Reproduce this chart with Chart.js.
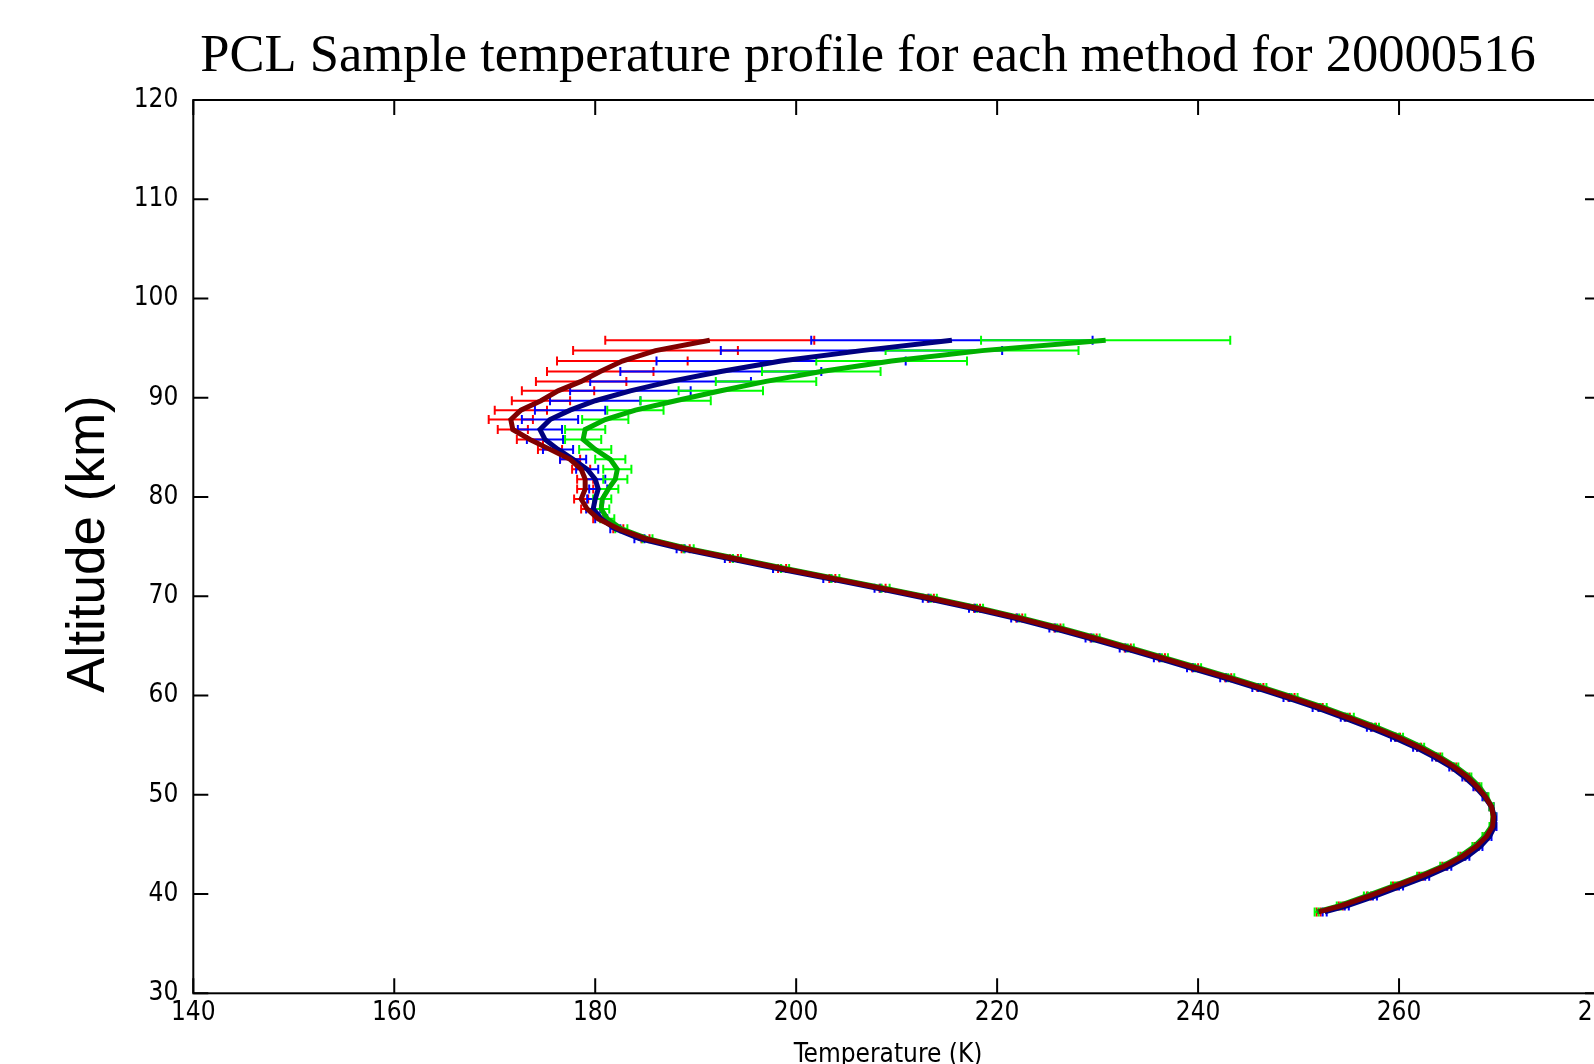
<!DOCTYPE html>
<html>
<head>
<meta charset="utf-8">
<script src="https://cdn.jsdelivr.net/npm/chart.js@4.4.1/dist/chart.umd.min.js"></script>
<style>
  html, body { margin: 0; padding: 0; background: #fff; overflow: hidden; }
  canvas { display: block; }
</style>
</head>
<body>
<canvas id="pclChart" width="1736" height="1100"></canvas>
<script>
// altitudes (km) of each retrieved point, top to bottom
const altitudes = [95.8, 94.75, 93.7, 92.65, 91.65, 90.7, 89.7, 88.75, 87.8, 86.8,
  85.8, 84.8, 83.8, 82.8, 81.8, 80.8, 79.8, 78.8, 77.8, 76.8,
  75.8, 74.8, 73.8, 72.8, 71.8, 70.8, 69.8, 68.8, 67.8, 66.8,
  65.8, 64.8, 63.8, 62.8, 61.8, 60.8, 59.8, 58.8, 57.8, 56.8,
  55.8, 54.8, 53.8, 52.8, 51.8, 50.8, 49.8, 48.8, 47.8, 46.8,
  45.8, 44.8, 43.8, 42.8, 41.8, 40.8, 39.8, 38.8, 38.2]

// method 1 (dark red line, red error bars)
const tempM1 = [191.4, 186.0, 182.7, 180.5, 178.6, 176.3, 174.6, 172.6, 171.6, 171.8,
  173.5, 175.5, 177.5, 178.6, 179.0, 179.0, 178.6, 179.2, 180.3, 182.3,
  185.0, 189.0, 193.8, 198.6, 203.6, 208.6, 213.4, 218.0, 222.2, 226.0,
  229.6, 233.0, 236.4, 239.7, 243.0, 246.2, 249.3, 252.2, 254.9, 257.5,
  259.9, 262.0, 263.9, 265.5, 266.8, 267.8, 268.6, 269.2, 269.4, 269.3,
  268.7, 267.7, 266.3, 264.5, 262.2, 259.6, 257.0, 254.2, 252.0]
const errM1 = [10.4, 8.2, 6.5, 5.3, 4.5, 3.6, 2.9, 2.6, 2.2, 1.5,
  1.3, 1.2, 1.0, 0.9, 0.8, 0.8, 0.7, 0.6, 0.5, 0.5,
  0.4, 0.4, 0.4, 0.4, 0.3, 0.3, 0.3, 0.3, 0.3, 0.3,
  0.3, 0.3, 0.3, 0.3, 0.3, 0.3, 0.3, 0.2, 0.2, 0.2,
  0.2, 0.2, 0.2, 0.2, 0.2, 0.2, 0.2, 0.2, 0.2, 0.2,
  0.2, 0.2, 0.2, 0.2, 0.2, 0.2, 0.2, 0.2, 0.2]

// method 2 (navy line, blue error bars)
const tempM2 = [215.5, 206.5, 198.5, 192.5, 187.5, 183.5, 180.0, 177.5, 175.5, 174.5,
  175.0, 176.3, 177.8, 179.2, 180.0, 180.3, 180.0, 179.8, 180.6, 182.0,
  184.4, 188.5, 193.3, 198.1, 203.1, 208.1, 212.9, 217.5, 221.7, 225.5,
  229.1, 232.5, 235.9, 239.2, 242.5, 245.7, 248.8, 251.7, 254.4, 257.0,
  259.4, 261.6, 263.5, 265.2, 266.5, 267.6, 268.5, 269.2, 269.5, 269.5,
  269.0, 268.1, 266.8, 265.0, 262.8, 260.2, 257.6, 254.8, 252.6]
const errM2 = [14.0, 14.0, 12.4, 10.0, 8.0, 6.0, 4.5, 3.5, 2.8, 2.2,
  1.8, 1.5, 1.3, 1.1, 1.0, 0.9, 0.8, 0.7, 0.6, 0.5,
  0.5, 0.4, 0.4, 0.4, 0.4, 0.3, 0.3, 0.3, 0.3, 0.3,
  0.3, 0.3, 0.3, 0.3, 0.3, 0.3, 0.3, 0.3, 0.2, 0.2,
  0.2, 0.2, 0.2, 0.2, 0.2, 0.2, 0.2, 0.2, 0.2, 0.2,
  0.2, 0.2, 0.2, 0.2, 0.2, 0.2, 0.2, 0.2, 0.2]

// method 3 (green line, light green error bars)
const tempM3 = [230.8, 218.5, 209.5, 202.5, 197.0, 192.5, 188.0, 184.0, 181.0, 179.0,
  178.8, 180.0, 181.5, 182.2, 182.0, 181.3, 180.7, 180.6, 181.2, 182.6,
  185.2, 189.3, 194.1, 198.9, 203.9, 208.9, 213.7, 218.3, 222.5, 226.3,
  229.9, 233.3, 236.7, 240.0, 243.3, 246.5, 249.6, 252.5, 255.2, 257.8,
  260.2, 262.3, 264.1, 265.7, 267.0, 268.0, 268.7, 269.2, 269.4, 269.2,
  268.5, 267.5, 266.1, 264.3, 262.0, 259.4, 256.7, 254.0, 251.8]
const errM3 = [12.4, 9.6, 7.5, 5.9, 5.0, 4.2, 3.5, 2.8, 2.3, 2.0,
  1.8, 1.6, 1.5, 1.4, 1.2, 1.0, 0.9, 0.8, 0.7, 0.6,
  0.5, 0.5, 0.4, 0.4, 0.4, 0.4, 0.3, 0.3, 0.3, 0.3,
  0.3, 0.3, 0.3, 0.3, 0.3, 0.3, 0.3, 0.3, 0.3, 0.2,
  0.2, 0.2, 0.2, 0.2, 0.2, 0.2, 0.2, 0.2, 0.2, 0.2,
  0.2, 0.2, 0.2, 0.2, 0.2, 0.2, 0.2, 0.2, 0.2]

const xTicks = [140, 160, 180, 200, 220, 240, 260, 280]
const yTicks = [30, 40, 50, 60, 70, 80, 90, 100, 110, 120]

const titleText = "PCL Sample temperature profile for each method for 20000516"
const xTitle = "Temperature (K)"
const yTitle = "Altitude (km)"

const tickFont = "'Liberation Sans Narrow', 'Arial Narrow', 'DejaVu Sans Condensed', sans-serif"

function toPoints(temps) {
  return temps.map((t, i) => ({ x: t, y: altitudes[i] }))
}

const barSets = [
  { temps: tempM1, err: errM1, color: "#ff0000" },
  { temps: tempM2, err: errM2, color: "#0000ff" },
  { temps: tempM3, err: errM3, color: "#00ff00" },
]

// horizontal error bars with small caps
const errorBars = {
  id: "errorBars",
  beforeDatasetsDraw(chart) {
    const ctx = chart.ctx
    const xs = chart.scales.x
    const ys = chart.scales.y
    const area = chart.chartArea
    ctx.save()
    ctx.beginPath()
    ctx.rect(area.left, area.top, area.right - area.left, area.bottom - area.top)
    ctx.clip()
    ctx.lineWidth = 2
    barSets.forEach(set => {
      ctx.strokeStyle = set.color
      set.temps.forEach((t, i) => {
        const y = ys.getPixelForValue(altitudes[i])
        const x0 = xs.getPixelForValue(t - set.err[i])
        const x1 = xs.getPixelForValue(t + set.err[i])
        ctx.beginPath()
        ctx.moveTo(x0, y); ctx.lineTo(x1, y)
        ctx.moveTo(x0, y - 4.5); ctx.lineTo(x0, y + 4.5)
        ctx.moveTo(x1, y - 4.5); ctx.lineTo(x1, y + 4.5)
        ctx.stroke()
      })
    })
    ctx.restore()
  }
}

// box round the plot with inward ticks, plus the titles
const frame = {
  id: "frame",
  afterDraw(chart) {
    const ctx = chart.ctx
    const xs = chart.scales.x
    const ys = chart.scales.y
    const { left, right, top, bottom } = chart.chartArea
    const tl = 15
    ctx.save()
    ctx.strokeStyle = "#000"
    ctx.lineWidth = 2
    ctx.strokeRect(left, top, right - left, bottom - top)
    ctx.beginPath()
    xTicks.forEach(v => {
      const x = xs.getPixelForValue(v)
      ctx.moveTo(x, bottom); ctx.lineTo(x, bottom - tl)
      ctx.moveTo(x, top); ctx.lineTo(x, top + tl)
    })
    yTicks.forEach(v => {
      const y = ys.getPixelForValue(v)
      ctx.moveTo(left, y); ctx.lineTo(left + tl, y)
      ctx.moveTo(right, y); ctx.lineTo(right - tl, y)
    })
    ctx.stroke()

    ctx.fillStyle = "#000"
    ctx.textAlign = "center"
    ctx.textBaseline = "alphabetic"
    ctx.font = "52.5px 'Liberation Serif', 'Times New Roman', serif"
    ctx.fillText(titleText, 868, 71)

    ctx.font = "26px " + tickFont
    ctx.fillText(xTitle, 888, 1062)

    ctx.translate(103.5, 544)
    ctx.rotate(-Math.PI / 2)
    ctx.font = "53px 'Liberation Sans', Arial, sans-serif"
    ctx.fillText(yTitle, 0, 0)
    ctx.restore()
  }
}

const config = {
  type: "scatter",
  data: {
    datasets: [
      { label: "method 1", data: toPoints(tempM1), borderColor: "#800000", backgroundColor: "#800000" },
      { label: "method 2", data: toPoints(tempM2), borderColor: "#000080", backgroundColor: "#000080" },
      { label: "method 3", data: toPoints(tempM3), borderColor: "#00b000", backgroundColor: "#00b000" },
    ]
  },
  options: {
    responsive: false,
    animation: false,
    devicePixelRatio: 1,
    showLine: true,
    layout: { padding: { top: 100, right: 136, bottom: 0, left: 0 } },
    elements: {
      line: { borderWidth: 5, tension: 0 },
      point: { radius: 0, hoverRadius: 0 }
    },
    plugins: {
      legend: { display: false },
      tooltip: { enabled: false },
      title: { display: false }
    },
    scales: {
      x: {
        type: "linear",
        min: 140,
        max: 280,
        afterBuildTicks: scale => { scale.ticks = xTicks.map(v => ({ value: v })) },
        afterFit: scale => { scale.height = 106.7 },
        grid: { display: false, drawTicks: false },
        border: { display: false },
        ticks: { color: "#000", padding: 4, maxRotation: 0, autoSkip: false, font: { family: tickFont, size: 26 } }
      },
      y: {
        type: "linear",
        min: 30,
        max: 120,
        afterBuildTicks: scale => { scale.ticks = yTicks.map(v => ({ value: v })) },
        afterFit: scale => { scale.width = 193.3 },
        grid: { display: false, drawTicks: false },
        border: { display: false },
        ticks: { color: "#000", padding: 15, font: { family: tickFont, size: 26 } }
      }
    }
  },
  plugins: [errorBars, frame]
}

const pclChart = new Chart(document.getElementById("pclChart"), config)
</script>
</body>
</html>
